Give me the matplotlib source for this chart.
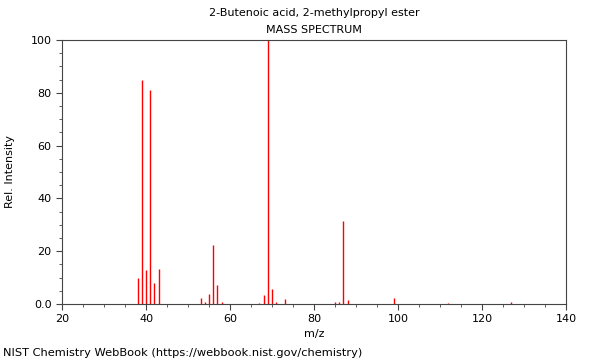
import matplotlib
matplotlib.use("Agg")
import matplotlib.pyplot as plt
from matplotlib.ticker import MultipleLocator

mz = [38, 39, 40, 41, 42, 43, 53, 54, 55, 56, 57, 58, 67, 68, 69, 70, 71, 73,
      85, 86, 87, 88, 99, 112, 127]
intensity = [10.0, 84.8, 12.9, 81.0, 7.8, 13.3, 2.1, 0.8, 3.8, 22.3, 7.2, 0.6,
             0.4, 3.4, 100.0, 5.5, 0.9, 1.9, 0.9, 0.6, 31.4, 1.6, 2.3, 0.3, 0.6]

title1 = "2-Butenoic acid, 2-methylpropyl ester"
title2 = "MASS SPECTRUM"
footer = "NIST Chemistry WebBook (https://webbook.nist.gov/chemistry)"

fig = plt.figure(figsize=(6, 3.6), dpi=100)
ax = fig.add_axes([62/600, 56/360, 504/600, 264/360])
ax.vlines(mz, 0, intensity, colors="#ff0000", linewidth=1)

ax.set_xlim(20, 140)
ax.set_ylim(0, 100)
ax.xaxis.set_major_locator(MultipleLocator(20))
ax.xaxis.set_minor_locator(MultipleLocator(5))
ax.yaxis.set_major_locator(MultipleLocator(20))
ax.yaxis.set_minor_locator(MultipleLocator(5))
ax.set_yticks([0, 20, 40, 60, 80, 100])
ax.set_yticklabels(["0.0", "20", "40", "60", "80", "100"])
ax.tick_params(which="major", direction="out", length=4, width=0.8,
               labelsize=8, colors="#444444", labelcolor="black")
ax.tick_params(which="minor", direction="out", length=2, width=0.6,
               colors="#444444")
for s in ax.spines.values():
    s.set_color("#444444")
    s.set_linewidth(0.8)

ax.set_xlabel("m/z", fontsize=8, labelpad=3)
ax.set_ylabel("Rel. Intensity", fontsize=8, labelpad=11)

fig.text(314/600, 1 - 13/360, title1, ha="center", va="center", fontsize=8)
fig.text(314/600, 1 - 30/360, title2, ha="center", va="center", fontsize=8)
fig.text(3/600, 1 - 353/360, footer, ha="left", va="center", fontsize=8.2)

fig.savefig("out.png", dpi=100)
